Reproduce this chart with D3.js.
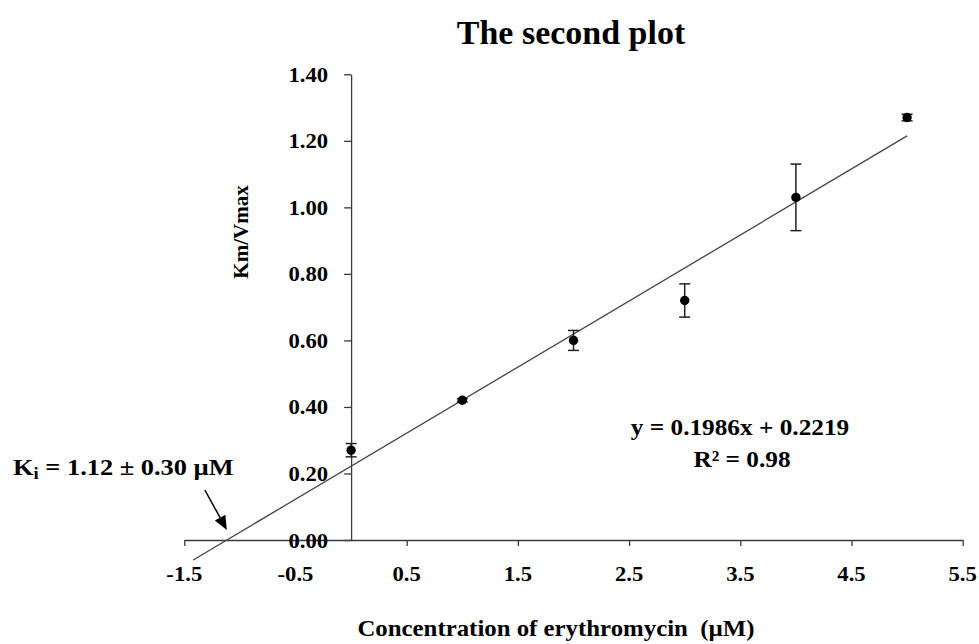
<!DOCTYPE html>
<html>
<head>
<meta charset="utf-8">
<script src="https://cdn.jsdelivr.net/npm/d3@7"></script>
<style>
  html, body { margin: 0; padding: 0; background: #fff; }
  svg { display: block; }
  text { font-family: "Liberation Serif", "Times New Roman", serif; font-weight: bold; fill: #000; }
</style>
</head>
<body>
<svg id="chart" width="979" height="644"></svg>
<script>
// ---- data ----
const concentrations = [0, 1, 2, 3, 4, 5];
const kmVmax = [0.27, 0.42, 0.60, 0.72, 1.03, 1.27];
const errors = [0.02, 0.005, 0.03, 0.05, 0.10, 0.01];
const xTicks = [-1.5, -0.5, 0.5, 1.5, 2.5, 3.5, 4.5, 5.5];
const yTicks = [0, 0.2, 0.4, 0.6, 0.8, 1.0, 1.2, 1.4];
const slope = 0.1986;
const intercept = 0.2219;
const trendRange = [-1.42, 5];
const titleText = "The second plot";
const xLabel = "Concentration of erythromycin \u00a0(\u00b5M)";
const yLabel = "Km/Vmax";
const eqText = "y = 0.1986x + 0.2219";
const r2Text = "R\u00b2 = 0.98";

// ---- layout ----
const svg = d3.select("#chart");
const x = d3.scaleLinear().domain([-1.5, 5.5]).range([184.3, 962.7]);
const y = d3.scaleLinear().domain([0, 1.4]).range([540, 74.3]);
const axisColor = "#3a3a3a";
const fmtX = d => d.toFixed(1);
const fmtY = d => d.toFixed(2);

function stretchText(parent, px, py, str, size, sx, anchor) {
  return parent.append("text")
    .attr("transform", `translate(${px},${py}) scale(${sx},1)`)
    .attr("text-anchor", anchor || "middle")
    .style("font-size", size + "px")
    .text(str);
}

// x axis at y = 0
const xAxis = d3.axisBottom(x).tickValues(xTicks).tickSize(6).tickSizeOuter(0).tickFormat(fmtX);
const gx = svg.append("g").attr("transform", `translate(0,${y(0)})`).call(xAxis);
gx.select(".domain").attr("stroke", axisColor).attr("stroke-width", 1.3);
gx.selectAll(".tick line").attr("stroke", axisColor).attr("stroke-width", 1.3);
gx.selectAll(".tick text").remove();
xTicks.forEach(t => stretchText(svg, x(t), 581, fmtX(t), 21, 1.08, "middle"));

// y axis at x = 0
const yAxis = d3.axisLeft(y).tickValues(yTicks).tickSize(7).tickSizeOuter(0).tickFormat(fmtY);
const gy = svg.append("g").attr("transform", `translate(${x(0)},0)`).call(yAxis);
gy.select(".domain").attr("stroke", axisColor).attr("stroke-width", 1.3);
gy.selectAll(".tick line").attr("stroke", axisColor).attr("stroke-width", 1.3);
gy.selectAll(".tick text").remove();
yTicks.forEach(t => stretchText(svg, x(0) - 23, y(t) + 7.5, fmtY(t), 21, 1.08, "end"));

// trend line
svg.append("line")
  .attr("x1", x(trendRange[0])).attr("y1", y(slope * trendRange[0] + intercept))
  .attr("x2", x(trendRange[1])).attr("y2", y(slope * trendRange[1] + intercept))
  .attr("stroke", "#444").attr("stroke-width", 1.3);

// error bars
const pts = concentrations.map((c, i) => ({ c, v: kmVmax[i], e: errors[i] }));
const eb = svg.append("g").attr("stroke", "#222").attr("stroke-width", 1.5);
pts.forEach(p => {
  eb.append("line").attr("x1", x(p.c)).attr("x2", x(p.c))
    .attr("y1", y(p.v - p.e)).attr("y2", y(p.v + p.e));
  [p.v - p.e, p.v + p.e].forEach(v => {
    eb.append("line").attr("x1", x(p.c) - 5.5).attr("x2", x(p.c) + 5.5)
      .attr("y1", y(v)).attr("y2", y(v));
  });
});

// points
svg.append("g").selectAll("circle").data(pts).join("circle")
  .attr("cx", d => x(d.c)).attr("cy", d => y(d.v)).attr("r", 4.7)
  .attr("fill", "#000");

// title
stretchText(svg, 571, 44, titleText, 33, 1.03, "middle");

// axis titles
stretchText(svg, 556, 636, xLabel, 23, 1.08, "middle");
svg.append("text")
  .attr("transform", `translate(248,232) rotate(-90)`)
  .attr("text-anchor", "middle")
  .style("font-size", "21px")
  .text(yLabel);

// equation
stretchText(svg, 740, 435, eqText, 23, 1.1, "middle");
stretchText(svg, 742, 467, r2Text, 23, 1.1, "middle");

// Ki annotation
const ki = svg.append("text")
  .attr("transform", `translate(13,475) scale(1.1,1)`)
  .attr("text-anchor", "start")
  .style("font-size", "24px");
ki.append("tspan").text("K");
ki.append("tspan").attr("dy", 4).style("font-size", "17px").text("i");
ki.append("tspan").attr("dy", -4).text(" = 1.12 \u00b1 0.30 \u00b5M");

// arrow to x-intercept
const xInt = -intercept / slope;
const tipX = x(xInt), tipY = y(0) - 10;
const startX = tipX - 22, startY = tipY - 40;
const ang = Math.atan2(tipY - startY, tipX - startX);
const hl = 14, hw = 6;
const bx = tipX - hl * Math.cos(ang), by = tipY - hl * Math.sin(ang);
svg.append("line")
  .attr("x1", startX).attr("y1", startY).attr("x2", bx).attr("y2", by)
  .attr("stroke", "#000").attr("stroke-width", 1.5);
svg.append("path")
  .attr("d", d3.line()([
    [tipX, tipY],
    [bx + hw * Math.sin(ang), by - hw * Math.cos(ang)],
    [bx - hw * Math.sin(ang), by + hw * Math.cos(ang)]
  ]) + "Z")
  .attr("fill", "#000");
</script>
</body>
</html>
